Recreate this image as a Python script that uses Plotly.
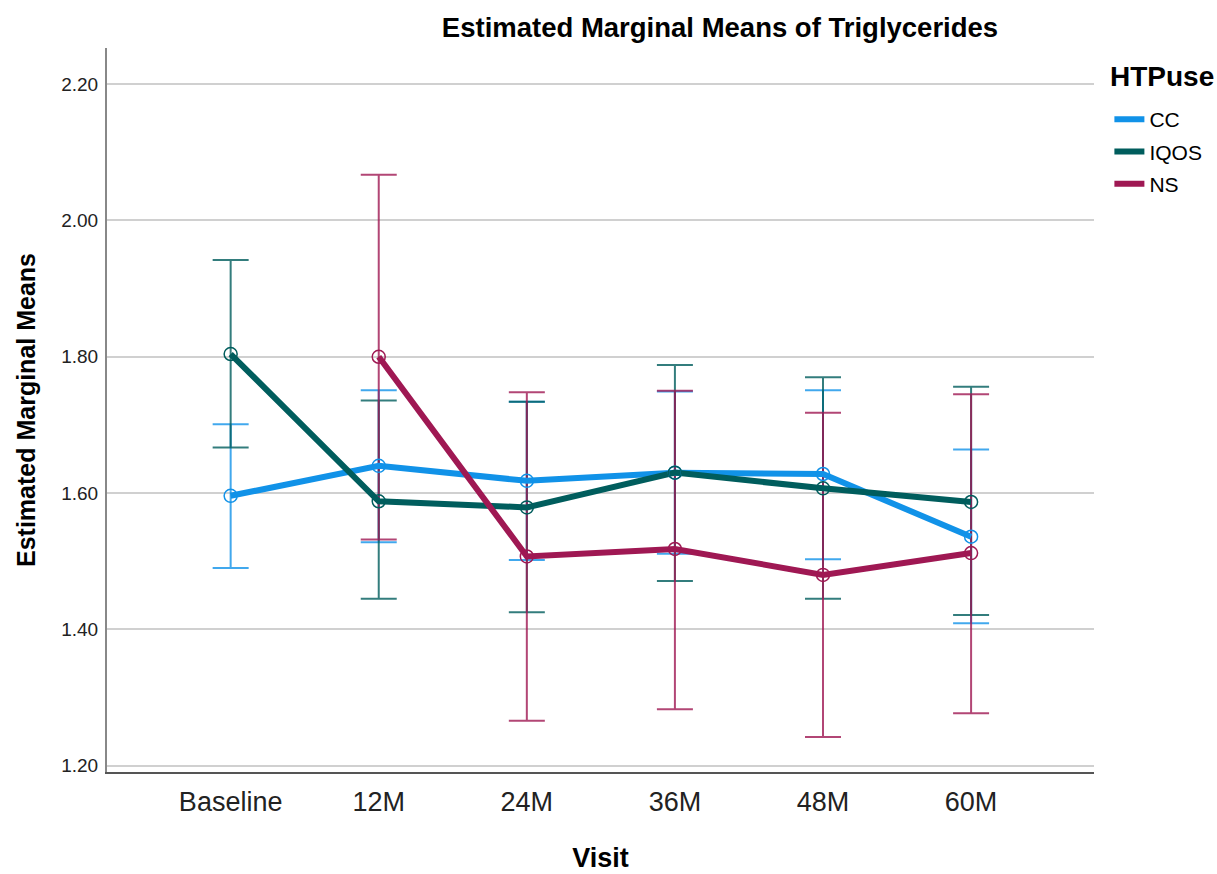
import plotly.graph_objects as go

visits = ["Baseline", "12M", "24M", "36M", "48M", "60M"]

cc_mean = [1.596, 1.640, 1.618, 1.630, 1.628, 1.536]
cc_lo = [1.490, 1.528, 1.502, 1.511, 1.503, 1.409]
cc_hi = [1.701, 1.751, 1.734, 1.749, 1.751, 1.664]

iqos_mean = [1.804, 1.588, 1.579, 1.630, 1.607, 1.587]
iqos_lo = [1.667, 1.445, 1.425, 1.471, 1.445, 1.421]
iqos_hi = [1.942, 1.736, 1.734, 1.788, 1.770, 1.756]

ns_mean = [None, 1.800, 1.507, 1.518, 1.480, 1.512]
ns_lo = [None, 1.532, 1.266, 1.283, 1.242, 1.277]
ns_hi = [None, 2.067, 1.748, 1.750, 1.718, 1.745]

groups = ["CC", "IQOS", "NS"]
colors = ["#1192e8", "#005d5d", "#9f1853"]
err_colors = ["rgba(17,146,232,0.8)", "rgba(0,93,93,0.8)", "rgba(159,24,83,0.8)"]

series = [(cc_mean, cc_lo, cc_hi), (iqos_mean, iqos_lo, iqos_hi), (ns_mean, ns_lo, ns_hi)]

FONT = "Liberation Sans, Arial, sans-serif"

fig = go.Figure()

# error bars first
for (m, lo, hi), name, ec in zip(series, groups, err_colors):
    plus = [None if v is None else h - v for v, h in zip(m, hi)]
    minus = [None if v is None else v - l for v, l in zip(m, lo)]
    fig.add_trace(go.Scatter(
        x=visits, y=m, mode="markers",
        marker=dict(size=1, opacity=0),
        error_y=dict(type="data", array=plus, arrayminus=minus, symmetric=False,
                     color=ec, thickness=2, width=18),
        showlegend=False, hoverinfo="skip"))

# lines
for (m, lo, hi), name, c in zip(series, groups, colors):
    fig.add_trace(go.Scatter(
        x=visits, y=m, mode="lines", name=name, legendgroup=name,
        line=dict(color=c, width=6), connectgaps=False))

# markers
for (m, lo, hi), name, c in zip(series, groups, colors):
    fig.add_trace(go.Scatter(
        x=visits, y=m, mode="markers",
        marker=dict(symbol="circle-open", size=13, color=c, line=dict(width=1.5, color=c)),
        showlegend=False, hoverinfo="skip"))

fig.update_layout(
    width=1217, height=874,
    margin=dict(l=107, r=123, t=48, b=102, autoexpand=False),
    paper_bgcolor="white", plot_bgcolor="white",
    font=dict(family=FONT, color="#000"),
    title=dict(text="<b>Estimated Marginal Means of Triglycerides</b>",
               x=720 / 1217, xanchor="center", xref="container",
               y=1 - 27 / 874, yanchor="middle", yref="container",
               font=dict(size=27.5, color="#000")),
    legend=dict(
        font=dict(size=21),
        x=1.0156, xanchor="left", y=(772 - 99) / 724, yanchor="top",
        tracegroupgap=2, bgcolor="rgba(0,0,0,0)"),
    showlegend=True,
    annotations=[dict(text="<b>HTPuse</b>", xref="paper", yref="paper",
                      x=(1108 - 107) / 987, y=(772 - 77) / 724,
                      xanchor="left", yanchor="middle", showarrow=False,
                      font=dict(size=28, color="#000"))],
)

fig.update_xaxes(
    type="category", range=[-0.835, 5.83], automargin=False,
    showline=True, linecolor="#555", linewidth=2,
    showgrid=False, ticks="", tickfont=dict(size=27, color="#222"),
    ticklabelstandoff=5,
    title=dict(text="<b>Visit</b>", font=dict(size=27), standoff=32),
    zeroline=False)

fig.update_yaxes(
    range=[1.1908, 2.253], automargin=False,
    tickvals=[1.2, 1.4, 1.6, 1.8, 2.0, 2.2], ticktext=["1.20", "1.40", "1.60", "1.80", "2.00", "2.20"],
    showline=True, linecolor="#888", linewidth=2,
    showgrid=True, gridcolor="#d0d0d0", gridwidth=2,
    ticks="", tickfont=dict(size=19, color="#222"),
    ticklabelstandoff=3,
    title=dict(text="<b>Estimated Marginal Means</b>", font=dict(size=25), standoff=18),
    zeroline=False)

fig.write_html("out.html")
